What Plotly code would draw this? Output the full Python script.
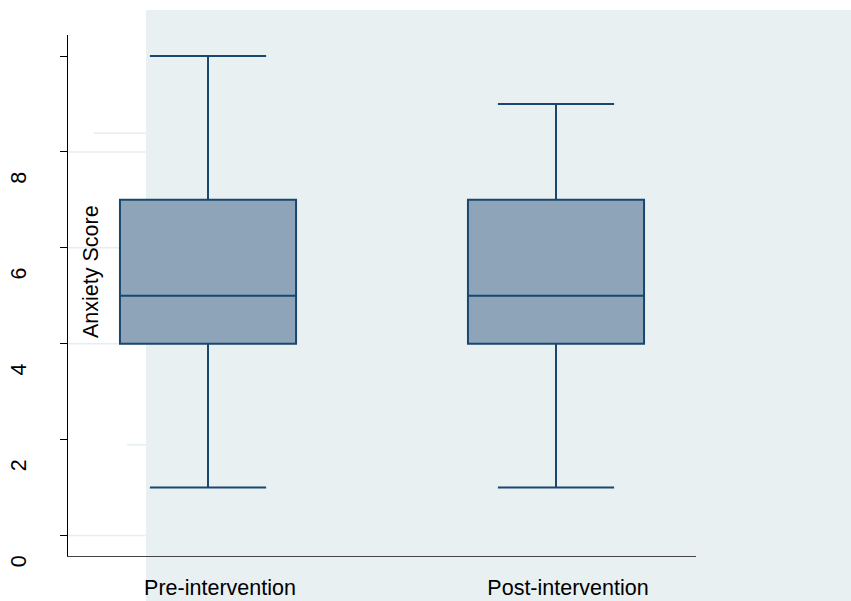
import plotly.graph_objects as go

# Summary statistics of the anxiety scores for each phase
groups = ["Pre-intervention", "Post-intervention"]
lower_whisker = [1, 1]
q1 = [4, 4]
median = [5, 5]
q3 = [7, 7]
upper_whisker = [10, 9]

# Y-axis ticks
y_tickvals = [0, 2, 4, 6, 8, 10]
y_ticktext = ["0", "2", "4", "6", "8", ""]

# Light reference lines on the left, outside the shaded region
grid_levels = [0, 4, 6, 8]
grid_fragments = [(8.39, 0.04), (1.89, 0.094)]  # (level, start in paper x)

NAVY = "#1a476f"
FILL = "#8ea4b8"
SHADE = "#e8f0f2"
GRID = "#e6eef0"
FONT = "Liberation Sans, Arial, sans-serif"

fig = go.Figure()
for i, g in enumerate(groups):
    fig.add_trace(go.Box(
        x=[g],
        q1=[q1[i]], median=[median[i]], q3=[q3[i]],
        lowerfence=[lower_whisker[i]], upperfence=[upper_whisker[i]],
        boxpoints=False,
        width=0.506,
        whiskerwidth=0.66,
        fillcolor=FILL,
        line=dict(color=NAVY, width=2),
        showlegend=False,
        hoverinfo="skip",
    ))

shade_x0 = 0.1242
shapes = []
for lvl in grid_levels:
    shapes.append(dict(type="line", xref="paper", yref="y", x0=0, x1=shade_x0,
                       y0=lvl, y1=lvl, line=dict(color=GRID, width=1.5), layer="below"))
for lvl, start in grid_fragments:
    shapes.append(dict(type="line", xref="paper", yref="y", x0=start, x1=shade_x0,
                       y0=lvl, y1=lvl, line=dict(color=GRID, width=1.5), layer="below"))
shapes.append(dict(type="rect", xref="paper", yref="paper", x0=shade_x0, x1=1.3,
                   y0=-0.12, y1=1.048, fillcolor=SHADE, line=dict(width=0), layer="below"))

fig.update_layout(
    width=851, height=601,
    margin=dict(l=68, r=155, t=35, b=45),
    paper_bgcolor="white",
    plot_bgcolor="white",
    font=dict(family=FONT, color="black"),
    shapes=shapes,
    annotations=[dict(
        text="Anxiety Score", xref="paper", yref="paper", x=0.0366, y=0.547,
        textangle=-90, showarrow=False, font=dict(size=21.5, family=FONT, color="black"),
        xanchor="center", yanchor="middle",
    )],
)
fig.update_xaxes(
    type="category", categoryorder="array", categoryarray=groups,
    range=[-0.4023, 1.4023], automargin=False,
    showline=True, linecolor="#444444", linewidth=1.3,
    showgrid=False, zeroline=False, ticks="",
    tickfont=dict(size=21.5, family=FONT, color="black"),
    ticklabelshift=12, ticklabelstandoff=12,
)
fig.update_yaxes(
    range=[-0.4275, 10.438], automargin=False,
    tickvals=y_tickvals, ticktext=y_ticktext,
    showline=True, linecolor="black", linewidth=1.3,
    ticks="outside", ticklen=7, tickcolor="black", tickwidth=1.2,
    showgrid=False, zeroline=False,
    tickangle=-90,
    tickfont=dict(size=21.5, family=FONT, color="black"),
    ticklabelshift=29, ticklabelstandoff=25,
)

fig.write_html("out.html")
